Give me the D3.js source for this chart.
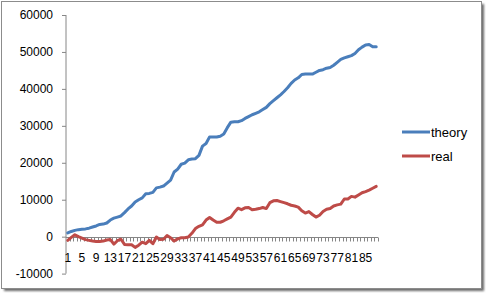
<html>
<head>
<meta charset="utf-8">
<script src="https://d3js.org/d3.v7.min.js"></script>
<style>
  body { margin: 0; background: white; }
  text { font-family: "Liberation Sans", Arial, sans-serif; }
</style>
</head>
<body>
<script>
  // data
  var theory = [1000,1400,1700,1900,2000,2100,2300,2600,2900,3300,
                3400,3700,4500,5000,5300,5600,6500,7500,8300,9400,
                10000,10500,11600,11700,12000,13200,13400,13700,14500,15300,
                17500,18300,19600,19900,20800,21000,21100,22000,24500,25200,
                27000,27000,27000,27200,27800,29500,31000,31100,31100,31400,
                32000,32500,33000,33400,33800,34400,35000,36000,36800,37600,
                38400,39300,40300,41500,42400,43000,43900,44000,44000,44000,
                44500,45000,45200,45600,45800,46400,47200,48000,48400,48700,
                49000,49600,50600,51300,51900,52000,51400,51400];
  var real = [-1000,-200,500,0,-400,-800,-1000,-1200,-1300,-1300,
              -1200,-900,-800,-2000,-1100,-700,-2100,-2200,-2200,-2900,
              -2300,-1500,-1900,-1000,-1900,-100,-800,-700,300,-300,
              -1200,-600,-300,-300,-100,900,2200,2800,3200,4500,
              5200,4500,3900,3900,4300,4800,5300,6600,7700,7300,
              7800,7900,7300,7400,7600,7900,7600,9200,9700,9800,
              9500,9200,8900,8500,8300,8000,7000,6400,6800,6000,
              5300,5800,6800,7400,7600,8300,8600,8800,10200,10200,
              10900,10700,11300,11900,12200,12600,13100,13600];
  var categories = d3.range(1, theory.length + 1);
  var yTicks = [-10000, 0, 10000, 20000, 30000, 40000, 50000, 60000];
  var seriesNames = ["theory", "real"];
  var colors = ["#4a7ebb", "#be4b48"];

  var width = 487, height = 294;
  var svg = d3.select("body").append("svg")
    .attr("width", width).attr("height", height)
    .style("display", "block");

  // frame + shadow
  var defs = svg.append("defs");
  defs.append("filter").attr("id", "blur")
    .append("feGaussianBlur").attr("stdDeviation", 1.2);
  svg.append("rect").attr("x", 4).attr("y", 4).attr("width", 480).attr("height", 287)
    .attr("fill", "#6b6b6b").attr("filter", "url(#blur)");
  svg.append("rect").attr("x", 1.5).attr("y", 1.5).attr("width", 480).attr("height", 287)
    .attr("fill", "white").attr("stroke", "#8c8c8c");

  var x = d3.scaleBand().domain(categories).range([66, 378]);
  var y = d3.scaleLinear().domain([-10000, 60000]).range([273.6, 15]);

  // y axis
  var yAxis = svg.append("g").attr("transform", "translate(66,0)")
    .call(d3.axisLeft(y).tickValues(yTicks).tickSize(4).tickPadding(9)
      .tickFormat(function(d) { return String(d); }));
  yAxis.selectAll("path,line").attr("stroke", "#868686");
  yAxis.select(".domain").attr("d", "M0," + y(-10000) + "V" + y(60000));
  yAxis.selectAll("text").attr("font-size", 12).attr("fill", "#000")
    .attr("font-family", "Liberation Sans, Arial, sans-serif");

  // x axis at zero
  var y0 = Math.round(y(0)) + 0.5;
  svg.append("line").attr("x1", 66).attr("x2", 378).attr("y1", y0).attr("y2", y0)
    .attr("stroke", "#868686");
  svg.append("g").selectAll("line").data(categories).enter().append("line")
    .attr("x1", function(d) { return Math.round(x(d) + x.bandwidth()) + 0.5; })
    .attr("x2", function(d) { return Math.round(x(d) + x.bandwidth()) + 0.5; })
    .attr("y1", y0).attr("y2", y0 + 4)
    .attr("stroke", "#868686");
  svg.append("g").selectAll("text")
    .data(categories.filter(function(d) { return (d - 1) % 4 == 0; }))
    .enter().append("text")
    .attr("x", function(d) { return x(d) + x.bandwidth() / 2; })
    .attr("y", 262)
    .attr("text-anchor", "middle")
    .attr("font-size", 12)
    .text(function(d) { return d; });

  // lines
  var line = d3.line()
    .x(function(d, i) { return x(categories[i]) + x.bandwidth() / 2; })
    .y(function(d) { return y(d); });
  [theory, real].forEach(function(s, k) {
    svg.append("path").datum(s)
      .attr("d", line)
      .attr("fill", "none")
      .attr("stroke", colors[k])
      .attr("stroke-width", 3)
      .attr("stroke-linejoin", "round")
      .attr("stroke-linecap", "round");
  });

  // legend
  var leg = svg.append("g").selectAll("g").data(seriesNames).enter().append("g")
    .attr("transform", function(d, i) { return "translate(402," + (132 + i * 24) + ")"; });
  leg.append("line").attr("x1", 0).attr("x2", 28).attr("y1", 0).attr("y2", 0)
    .attr("stroke", function(d, i) { return colors[i]; })
    .attr("stroke-width", 3);
  leg.append("text").attr("x", 29).attr("y", 4.5)
    .attr("font-size", 13)
    .text(function(d) { return d; });
</script>
</body>
</html>
